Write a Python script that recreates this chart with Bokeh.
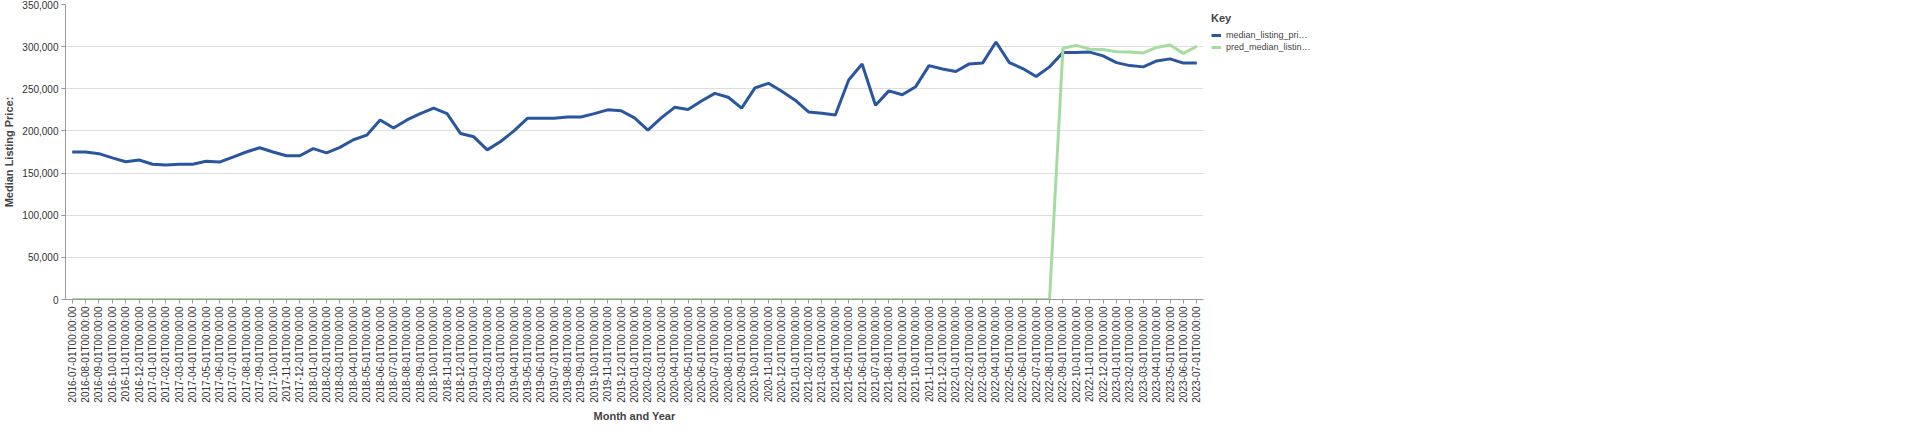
from bokeh.plotting import figure
from bokeh.models import FactorRange, Range1d, NumeralTickFormatter, Legend, LegendItem
from bokeh.embed import file_html
from bokeh.resources import INLINE

months = []
for y in range(2016, 2024):
    for m in range(1, 13):
        if (y == 2016 and m < 7) or (y == 2023 and m > 7):
            continue
        months.append(f"{y}-{m:02d}-01T00:00:00")

median_listing_price = [
    175000, 175000, 173000, 168000, 163500, 165500,
    160500, 159500, 160500, 160500, 164000, 163000, 169000, 175000, 180000, 175000, 170500, 170500,
    179000, 174000, 180500, 189500, 195000, 213000, 203500, 213000, 220500, 227000, 220500, 197000,
    193000, 177500, 187500, 200000, 215000, 215000, 215000, 216500, 216500, 220500, 225000, 224000,
    215500, 201000, 215500, 228000, 225500, 235500, 244500, 240000, 227000, 251000, 256500, 247000,
    236500, 222500, 221000, 219000, 260500, 279500, 230500, 247500, 243000, 252500, 277500, 273500,
    270500, 279500, 280500, 305500, 281000, 274000, 264500, 276000, 293000, 293000, 293500, 289000,
    281000, 277500, 276000, 283000, 285500, 280500, 280500,
]
pred_tail = [298000, 301500, 297000, 296500, 294000, 293500, 292500, 299000, 302000, 292000, 300500]
pred_median_listing_price = [0] * (len(months) - len(pred_tail)) + pred_tail

FONT = "Liberation Sans"
p = figure(width=1904, height=424, x_range=FactorRange(*months), y_range=Range1d(0, 350000),
           output_backend="svg", toolbar_location=None, min_border_top=4,
           min_border_left=4, min_border_right=0, min_border_bottom=2)
p.outline_line_color = None
r1 = p.line(months, median_listing_price, line_color="#2a56a0", line_width=3)
r2 = p.line(months, pred_median_listing_price, line_color="#a6dca0", line_width=3)

p.yaxis.formatter = NumeralTickFormatter(format="0,0")
p.yaxis.ticker = list(range(0, 350001, 50000))
p.yaxis.axis_label = "Median Listing Price:"
p.xaxis.axis_label = "Month and Year"
for ax in (p.xaxis, p.yaxis):
    ax.axis_label_text_font = FONT
    ax.axis_label_text_font_style = "bold"
    ax.axis_label_text_font_size = "11px"
    ax.axis_label_standoff = 4
    ax.major_label_text_font = FONT
    ax.major_label_text_font_size = "10px"
    ax.major_label_text_color = "#333333"
    ax.axis_line_color = "#999999"
    ax.major_tick_line_color = "#999999"
    ax.minor_tick_line_color = None
    ax.major_tick_out = 4
    ax.major_tick_in = 0
    ax.major_label_standoff = 3
p.xaxis.major_label_orientation = 1.5708
p.xgrid.grid_line_color = None
p.ygrid.grid_line_color = "#dddddd"

legend = Legend(items=[LegendItem(label="median_listing_pri…", renderers=[r1]),
                       LegendItem(label="pred_median_listin…", renderers=[r2])],
                title="Key", location="top_left", border_line_color=None,
                label_text_font=FONT, label_text_font_size="9px",
                title_text_font=FONT, title_text_font_size="11px", title_text_font_style="bold",
                glyph_width=10, label_height=12, glyph_height=12, label_width=180,
                label_standoff=5, spacing=0, padding=2, margin=8)
p.add_layout(legend, "right")

open("out.html", "w").write(file_html(p, INLINE))
